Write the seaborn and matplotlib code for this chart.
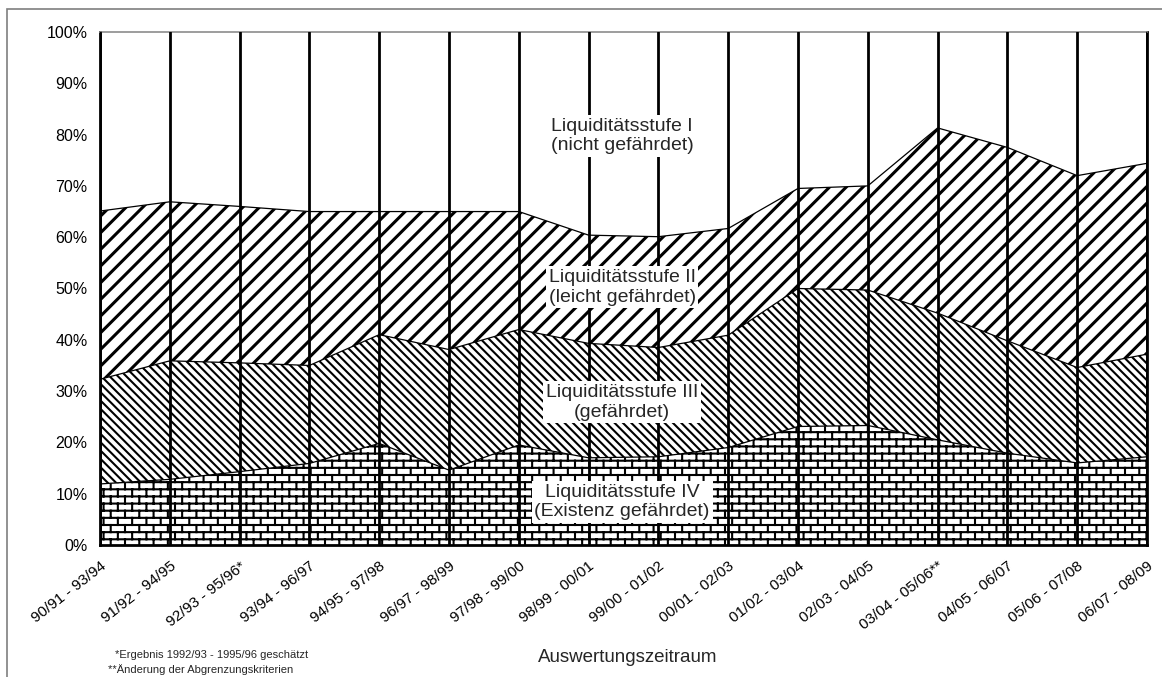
"""
Liquiditätsstufen im Zeitverlauf als gestapelte Flächen (Schwarz-Weiß-Schraffur)
"""
import numpy as np
import matplotlib

matplotlib.use("Agg")
import matplotlib.pyplot as plt
import matplotlib.hatch as mhatch
from matplotlib.path import Path
from matplotlib.patches import Rectangle
from matplotlib.ticker import PercentFormatter
import seaborn as sns

zeitraum = [
    "90/91 - 93/94", "91/92 - 94/95", "92/93 - 95/96*", "93/94 - 96/97",
    "94/95 - 97/98", "96/97 - 98/99", "97/98 - 99/00", "98/99 - 00/01",
    "99/00 - 01/02", "00/01 - 02/03", "01/02 - 03/04", "02/03 - 04/05",
    "03/04 - 05/06**", "04/05 - 06/07", "05/06 - 07/08", "06/07 - 08/09",
]

# Anteile in Prozent (von unten nach oben gestapelt)
stufe_iv = [11.9, 12.8, 14.3, 15.9, 19.8, 14.6, 19.5, 17.0,
            17.2, 19.0, 23.1, 23.3, 20.5, 17.9, 16.0, 17.2]
stufe_iii = [20.4, 23.1, 21.2, 19.1, 21.2, 23.5, 22.5, 22.3,
             21.3, 21.9, 26.9, 26.4, 24.7, 21.9, 18.6, 20.0]
stufe_ii = [32.8, 31.0, 30.5, 30.0, 24.0, 26.9, 23.0, 21.1,
            21.6, 20.8, 19.5, 20.3, 36.1, 37.7, 37.4, 37.2]
stufe_i = [34.9, 33.1, 34.0, 35.0, 35.0, 35.0, 35.0, 39.6,
           39.9, 38.3, 30.5, 30.0, 18.7, 22.5, 28.0, 25.6]

stufen_namen = [
    "Liquiditätsstufe IV\n(Existenz gefährdet)",
    "Liquiditätsstufe III\n(gefährdet)",
    "Liquiditätsstufe II\n(leicht gefährdet)",
    "Liquiditätsstufe I\n(nicht gefährdet)",
]


class BrickHatch(mhatch.HatchPatternBase):
    """Mauerwerk-Schraffur, wird über das Zeichen 'O' angesprochen."""

    rows = 14
    cols = 7

    def __init__(self, hatch, density):
        self.segs = []
        if "O" in hatch:
            for i in range(self.rows):
                y0 = (i + 0.5) / self.rows
                y1 = y0 + 1 / self.rows
                self.segs.append(((0, y0), (1, y0)))
                for j in range(self.cols):
                    xx = (j + 0.25 + 0.5 * (i % 2)) / self.cols
                    if y1 <= 1:
                        self.segs.append(((xx, y0), (xx, y1)))
                    else:
                        self.segs.append(((xx, y0), (xx, 1)))
                        self.segs.append(((xx, 0), (xx, y1 - 1)))
        self.num_vertices = 2 * len(self.segs)

    def set_vertices_and_codes(self, vertices, codes):
        vertices[:] = np.asarray(self.segs, dtype=float).reshape(-1, 2)
        codes[0::2] = Path.MOVETO
        codes[1::2] = Path.LINETO


# große Kreise werden nicht gebraucht -> durch Mauerwerk ersetzen
mhatch._hatch_types = [
    BrickHatch if t is mhatch.LargeCircles else t for t in mhatch._hatch_types
]


def hatch_width(artist, lw):
    """Schraffur-Linienbreite pro Fläche (rcParam wird beim Zeichnen gelesen)."""
    if hasattr(artist, "set_hatch_linewidth"):
        artist.set_hatch_linewidth(lw)
    orig_draw = artist.draw

    def draw(renderer):
        with plt.rc_context({"hatch.linewidth": lw}):
            orig_draw(renderer)

    artist.draw = draw


sns.set_style("white")
plt.rcParams["font.family"] = ["Liberation Sans", "DejaVu Sans"]

W, H = 1162, 677
fig = plt.figure(figsize=(W / 100, H / 100), dpi=100)
ax = fig.add_axes([100 / W, 1 - 545 / H, 1047 / W, 513 / H])

x = np.arange(len(zeitraum))
backslash = chr(92)
layers = [
    (stufe_iv, "O", 1.5),
    (stufe_iii, backslash * 4, 1.5),
    (stufe_ii, "//", 2.2),
    (stufe_i, "", 1.0),
]

bottom = np.zeros(len(x))
for vals, hatch, hlw in layers:
    top = bottom + np.array(vals)
    with plt.rc_context({"hatch.linewidth": hlw, "hatch.color": "black"}):
        area = ax.fill_between(x, bottom, top, facecolor="white",
                               edgecolor="black", hatch=hatch, linewidth=0,
                               zorder=1)
    hatch_width(area, hlw)
    if hatch:
        sns.lineplot(x=x, y=top, color="black", linewidth=0.9, ax=ax, zorder=2)
    bottom = top

# Beschriftung der Flächen
label_pos = [(7.48, 8.4), (7.48, 27.8), (7.48, 50.2), (7.48, 79.7)]
for (lx, ly), name in zip(label_pos, stufen_namen):
    ax.text(lx, ly, name, ha="center", va="center", fontsize=14,
            linespacing=1.2, zorder=5,
            bbox=dict(facecolor="white", edgecolor="none", pad=2))

ax.set_xlim(0, len(x) - 1)
ax.set_ylim(0, 100)
ax.set_yticks(np.arange(0, 101, 10))
ax.yaxis.set_major_formatter(PercentFormatter(100, decimals=0))
ax.set_xticks(x)
ax.set_xticklabels(zeitraum, rotation=38, ha="right", va="top",
                   rotation_mode="anchor")
ax.tick_params(axis="both", direction="out", length=5, width=1.2,
               color="black", labelsize=11, labelcolor="black")
ax.tick_params(axis="x", pad=5)
ax.tick_params(axis="y", pad=4, labelsize=11.5)
ax.set_xlabel("")
ax.set_ylabel("")

ax.xaxis.grid(True, color="black", linewidth=2)
ax.yaxis.grid(False)
ax.set_axisbelow(False)

for side in ["left", "bottom", "right"]:
    ax.spines[side].set_color("black")
    ax.spines[side].set_linewidth(2)
ax.spines["top"].set_color("#8c8c8c")
ax.spines["top"].set_linewidth(1.2)

fig.text(628 / W, 1 - 657 / H, "Auswertungszeitraum", ha="center",
         va="center", fontsize=13.5)
fig.text(115 / W, 1 - 658 / H, "*Ergebnis 1992/93 - 1995/96 geschätzt",
         ha="left", va="baseline", fontsize=8)
fig.text(108 / W, 1 - 673 / H, "**Änderung der Abgrenzungskriterien",
         ha="left", va="baseline", fontsize=8)

# äußerer Rahmen des Diagrammbereichs
fig.add_artist(Rectangle((7 / W, -0.5), 2, 1.5 - 9 / H, transform=fig.transFigure,
                         fill=False, edgecolor="#7f7f7f", linewidth=1.2))

plt.savefig("out.png", dpi=100)
